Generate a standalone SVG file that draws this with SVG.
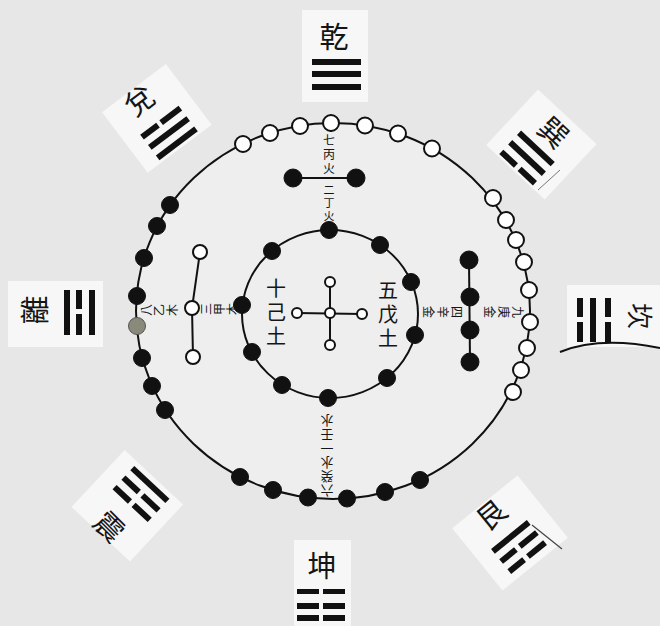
<svg xmlns="http://www.w3.org/2000/svg" width="660" height="626" viewBox="0 0 660 626">
<style>
.cj{font-family:"Noto Sans CJK TC","Noto Sans CJK SC",sans-serif;fill:#151515;text-anchor:middle;dominant-baseline:central}
.vt{font-family:"Noto Sans CJK TC","Noto Sans CJK SC",sans-serif;fill:#151515;writing-mode:vertical-rl;text-anchor:start}
.tri{font-size:29px}
.bar{fill:#111}
.panel{fill:#f7f7f7}
.ring{fill:none;stroke:#111;stroke-width:2}
.blk{fill:#111;stroke:#111;stroke-width:1}
.wht{fill:#fff;stroke:#111;stroke-width:2}
.ln{stroke:#111;stroke-width:2;fill:none}
</style>
<rect width="660" height="626" fill="#e7e7e7"/>
<ellipse cx="333" cy="311" rx="197" ry="188" fill="#eeeeee"/>

<!-- trigram panels and trigrams -->
<g id="qian">
<rect class="panel" x="302" y="10" width="66" height="92"/>
<text class="cj tri" x="334" y="35">乾</text>
<rect class="bar" x="312" y="59" width="49" height="6"/>
<rect class="bar" x="312" y="71" width="49" height="6"/>
<rect class="bar" x="312" y="84" width="49" height="6"/>
</g>
<g id="kun">
<rect class="panel" x="294" y="540" width="57" height="86"/>
<text class="cj tri" x="322" y="564">坤</text>
<rect class="bar" x="297" y="589" width="22" height="5"/><rect class="bar" x="323" y="589" width="22" height="5"/>
<rect class="bar" x="297" y="603" width="22" height="6"/><rect class="bar" x="323" y="603" width="22" height="6"/>
<rect class="bar" x="297" y="615" width="22" height="6"/><rect class="bar" x="323" y="615" width="22" height="6"/>
</g>
<g id="li">
<rect class="panel" x="8" y="281" width="95" height="66"/>
<text class="cj tri" transform="translate(33,310) rotate(-90)">離</text>
<rect class="bar" x="64" y="290" width="6" height="45"/>
<rect class="bar" x="76" y="290" width="6" height="19"/><rect class="bar" x="76" y="314" width="6" height="21"/>
<rect class="bar" x="89" y="290" width="6" height="45"/>
</g>
<g id="kan">
<rect class="panel" x="567" y="285" width="93" height="62"/>
<text class="cj" font-size="26" transform="translate(641,316) rotate(90)">坎</text>
<rect class="bar" x="577" y="298" width="6" height="19"/><rect class="bar" x="577" y="322" width="6" height="20"/>
<rect class="bar" x="590" y="298" width="6" height="44"/>
<rect class="bar" x="605" y="298" width="6" height="19"/><rect class="bar" x="605" y="322" width="6" height="20"/>
<path class="ln" d="M560,352 Q600,336 660,348" stroke-width="1.6"/>
</g>
<g id="dui">
<rect class="panel" x="-40" y="-40" width="80" height="76" transform="translate(158,120) rotate(-37)"/>
<text class="cj tri" transform="translate(138,99) rotate(-37)">兌</text>
<g transform="translate(169,133) rotate(-37)">
<rect class="bar" x="-24" y="-16" width="20" height="6"/><rect class="bar" x="0" y="-16" width="24" height="6"/>
<rect class="bar" x="-24" y="-3" width="48" height="6"/>
<rect class="bar" x="-24" y="10" width="48" height="6"/>
</g>
</g>
<g id="xun">
<rect class="panel" x="-40" y="-40" width="80" height="76" transform="translate(540,146) rotate(43)"/>
<text class="cj tri" transform="translate(555,131) rotate(43)">巽</text>
<g transform="translate(527,158) rotate(43)">
<rect class="bar" x="-23" y="-16" width="46" height="6"/>
<rect class="bar" x="-23" y="-3" width="46" height="6"/>
<rect class="bar" x="-23" y="10" width="20" height="6"/><rect class="bar" x="2" y="10" width="21" height="6"/>
</g>
<path d="M538,190 L560,170" stroke="#777" stroke-width="1"/>
</g>
<g id="zhen">
<rect class="panel" x="-40" y="-38" width="80" height="78" transform="translate(128,505) rotate(43)"/>
<text class="cj tri" transform="translate(111,525) rotate(45)">震</text>
<g transform="translate(141,494) rotate(43)">
<rect class="bar" x="-24" y="-16" width="48" height="6"/>
<rect class="bar" x="-24" y="-3" width="21" height="6"/><rect class="bar" x="2" y="-3" width="22" height="6"/>
<rect class="bar" x="-24" y="10" width="21" height="6"/><rect class="bar" x="2" y="10" width="22" height="6"/>
</g>
</g>
<g id="gen">
<rect class="panel" x="-42" y="-40" width="84" height="80" transform="translate(510,533) rotate(-39)"/>
<text class="cj tri" transform="translate(490,513) rotate(-39)">艮</text>
<g transform="translate(519,547) rotate(-39)">
<rect class="bar" x="-23" y="-16" width="46" height="6"/>
<rect class="bar" x="-23" y="-3" width="19" height="6"/><rect class="bar" x="1" y="-3" width="22" height="6"/>
<rect class="bar" x="-23" y="10" width="19" height="6"/><rect class="bar" x="1" y="10" width="22" height="6"/>
</g>
<path d="M532,525 L562,549" stroke="#444" stroke-width="1.2"/>
</g>

<!-- connectors: rings and dot links -->
<g id="connectors">
<ellipse class="ring" cx="333" cy="311" rx="197" ry="188"/>
<ellipse class="ring" cx="330" cy="314" rx="88" ry="84"/>
<line class="ln" x1="293" y1="178" x2="356" y2="178"/>
<line class="ln" x1="331" y1="115" x2="331" y2="132" stroke-width="1.5"/>
<polyline class="ln" points="200,252 192,308 193,357"/>
<line class="ln" x1="469" y1="260" x2="470" y2="362"/>
<line class="ln" x1="297" y1="313" x2="362" y2="314" stroke-width="1.6"/>
<line class="ln" x1="330" y1="282" x2="330" y2="345" stroke-width="1.6"/>
</g>

<!-- outer ring dots -->
<g id="outer-south-7">
<circle class="wht" cx="243" cy="144" r="8"/><circle class="wht" cx="270" cy="133" r="8"/>
<circle class="wht" cx="300" cy="126" r="8"/><circle class="wht" cx="331" cy="123" r="8"/>
<circle class="wht" cx="365" cy="125.5" r="8"/><circle class="wht" cx="398" cy="133.5" r="8"/>
<circle class="wht" cx="432" cy="148.5" r="8"/>
</g>
<g id="outer-west-9">
<circle class="wht" cx="493" cy="198" r="8"/><circle class="wht" cx="506" cy="220" r="8"/>
<circle class="wht" cx="516" cy="240" r="8"/><circle class="wht" cx="524" cy="262" r="8"/>
<circle class="wht" cx="529" cy="290" r="8"/><circle class="wht" cx="530" cy="322" r="8"/>
<circle class="wht" cx="527" cy="348" r="8"/><circle class="wht" cx="521" cy="370" r="8"/>
<circle class="wht" cx="513" cy="392" r="8"/>
</g>
<g id="outer-east-8">
<circle class="blk" cx="170" cy="205" r="8.5"/><circle class="blk" cx="157" cy="226" r="8.5"/>
<circle class="blk" cx="144" cy="258" r="8.5"/><circle class="blk" cx="137" cy="296" r="8.5"/>
<circle cx="137" cy="326" r="8.5" fill="#8a8a7a" stroke="#555"/><circle class="blk" cx="142" cy="358" r="8.5"/>
<circle class="blk" cx="152" cy="386" r="8.5"/><circle class="blk" cx="165" cy="410" r="8.5"/>
</g>
<g id="outer-north-6">
<circle class="blk" cx="240" cy="477" r="8.5"/><circle class="blk" cx="273" cy="490" r="8.5"/>
<circle class="blk" cx="308" cy="497.5" r="8.5"/><circle class="blk" cx="347" cy="498.5" r="8.5"/>
<circle class="blk" cx="385" cy="492" r="8.5"/><circle class="blk" cx="420" cy="480" r="8.5"/>
</g>

<!-- inner ring: ten black dots -->
<g id="inner-ten">
<circle class="blk" cx="329" cy="230" r="8.5"/><circle class="blk" cx="380" cy="245" r="8.5"/>
<circle class="blk" cx="272" cy="251" r="8.5"/><circle class="blk" cx="411" cy="282" r="8.5"/>
<circle class="blk" cx="242" cy="305" r="8.5"/><circle class="blk" cx="415" cy="335" r="8.5"/>
<circle class="blk" cx="252" cy="352" r="8.5"/><circle class="blk" cx="387" cy="378" r="8.5"/>
<circle class="blk" cx="282" cy="385" r="8.5"/><circle class="blk" cx="328" cy="398" r="8.5"/>
</g>

<g id="south-2">
<circle class="blk" cx="293" cy="178" r="9"/><circle class="blk" cx="356" cy="178" r="9"/>
</g>
<g id="east-3">
<circle class="wht" cx="200" cy="252" r="7"/><circle class="wht" cx="192" cy="308" r="7"/><circle class="wht" cx="193" cy="357" r="7"/>
</g>
<g id="west-4">
<circle class="blk" cx="469" cy="260" r="9"/><circle class="blk" cx="470" cy="297" r="9"/>
<circle class="blk" cx="470" cy="330" r="9"/><circle class="blk" cx="470" cy="362" r="9"/>
</g>
<g id="center-5">
<circle class="wht" cx="297" cy="313" r="5" stroke-width="1.6"/><circle class="wht" cx="330" cy="313" r="5" stroke-width="1.6"/>
<circle class="wht" cx="362" cy="314" r="5" stroke-width="1.6"/><circle class="wht" cx="330" cy="282" r="5" stroke-width="1.6"/>
<circle class="wht" cx="330" cy="345" r="5" stroke-width="1.6"/>
</g>

<!-- labels -->
<g id="label-center">
<text class="vt" font-size="20" letter-spacing="4" x="276" y="278">十己土</text>
<text class="vt" font-size="20" letter-spacing="4" x="388" y="280">五戊土</text>
</g>
<g id="label-south">
<text class="vt" font-size="12" letter-spacing="2" x="329" y="134">七丙火</text>
<text class="vt" font-size="11" letter-spacing="2" x="329" y="184">二丁火</text>
</g>
<g id="label-east">
<text class="vt" font-size="12" letter-spacing="1" transform="translate(140,310) rotate(-90)">八乙木</text>
<text class="vt" font-size="12" letter-spacing="1" transform="translate(200,309) rotate(-90)">三甲木</text>
</g>
<g id="label-west">
<text class="vt" font-size="12" letter-spacing="2" transform="translate(524,312) rotate(90)">九庚金</text>
<text class="vt" font-size="12" letter-spacing="2" transform="translate(463,312) rotate(90)">四辛金</text>
</g>
<g id="label-north">
<text class="vt" font-size="13" letter-spacing="1" transform="translate(327,497) rotate(180)">六癸水</text>
<text class="vt" font-size="13" letter-spacing="1" transform="translate(327,455) rotate(180)">一壬水</text>
</g>
</svg>
